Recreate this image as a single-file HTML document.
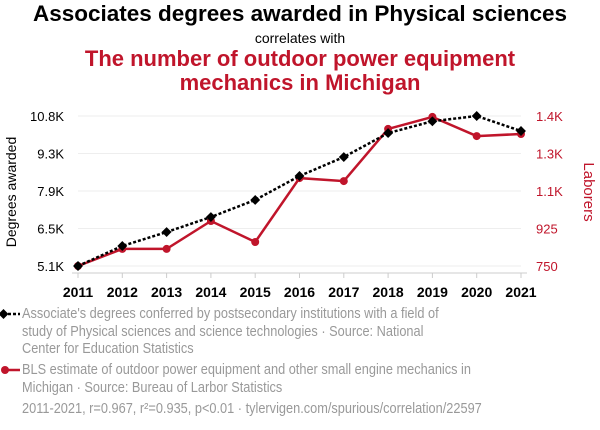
<!DOCTYPE html>
<html><head><meta charset="utf-8"><style>
body{margin:0;width:600px;height:430px;background:#fff;font-family:"Liberation Sans",sans-serif;overflow:hidden;position:relative}
.t{position:absolute;left:0;width:600px;text-align:center}
.leg{position:absolute;left:22px;color:#999;font-size:14.5px;line-height:17.5px;white-space:nowrap;transform:scaleX(0.88);transform-origin:0 0}
</style></head><body>
<div class="t" style="top:1px;font-size:22.5px;font-weight:bold;color:#000">Associates degrees awarded in Physical sciences</div>
<div class="t" style="top:30px;font-size:14px;color:#000">correlates with</div>
<div class="t" style="top:47px;font-size:22px;font-weight:bold;color:#c0152b;line-height:24px">The number of outdoor power equipment<br>mechanics in Michigan</div>
<svg id="c" width="600" height="300" style="position:absolute;left:0;top:0"></svg>
<div class="leg" style="top:306px">Associate's degrees conferred by postsecondary institutions with a field of<br>study of Physical sciences and science technologies · Source: National<br>Center for Education Statistics</div>
<div class="leg" style="top:362px">BLS estimate of outdoor power equipment and other small engine mechanics in<br>Michigan · Source: Bureau of Larbor Statistics</div>
<div class="leg" style="top:401px">2011-2021, r=0.967, r²=0.935, p&lt;0.01 · tylervigen.com/spurious/correlation/22597</div>
<svg width="22" height="100" style="position:absolute;left:0;top:305px">
<line x1="3" y1="9" x2="20" y2="9" stroke="#000" stroke-width="2.5" stroke-dasharray="3,2"/>
<rect x="0" y="5.5" width="7" height="7" transform="rotate(45 3.5 9)" fill="#000"/>
<line x1="3" y1="65" x2="20" y2="65" stroke="#c0152b" stroke-width="2.5"/>
<circle cx="5" cy="65" r="4" fill="#c0152b"/>
</svg>
<script>
const years=[2011,2012,2013,2014,2015,2016,2017,2018,2019,2020,2021];
const degrees=[5.1,5.86,6.39,6.96,7.61,8.52,9.24,10.15,10.6,10.8,10.23];
const laborers=[750,824,824,945,854,1131,1118,1344,1396,1313,1322];
const leftTicks=["5.1K","6.5K","7.9K","9.3K","10.8K"];
const rightTicks=["750","925","1.1K","1.3K","1.4K"];
const NS="http://www.w3.org/2000/svg",svg=document.getElementById('c');
const x=i=>78+i*(521-78)/(years.length-1);
const yL=v=>266-(v-5.1)/(10.8-5.1)*150;
const yR=v=>266-(v-750)/(1400-750)*150;
function mk(t,a,txt){const e=document.createElementNS(NS,t);for(const k in a)e.setAttribute(k,a[k]);if(txt!=null)e.textContent=txt;svg.appendChild(e);return e;}
leftTicks.forEach((l,i)=>{const y=266-i*37.5;
const g=mk('line',{x1:78,x2:521,y1:y,y2:y,stroke:'#eee'});


const a=mk('text',{x:64,y:y+5,'text-anchor':'end','font-size':13,fill:'#000'},l);


const b=mk('text',{x:536,y:y+5,'font-size':13,fill:'#c0152b'},rightTicks[i]);

});
const ax=mk('line',{x1:72,x2:527,y1:273,y2:273,stroke:'#ccc'});


years.forEach((yr,i)=>{const t=mk('text',{x:x(i),y:297,'text-anchor':'middle','font-size':14,'font-weight':'bold'},yr);


const tk=mk('line',{x1:x(i),x2:x(i),y1:273,y2:278,stroke:'#ccc'});

});
const lt=mk('text',{transform:'translate(16,192) rotate(-90)','text-anchor':'middle','font-size':14},'Degrees awarded');


const rt=mk('text',{transform:'translate(584,192) rotate(90)','text-anchor':'middle','font-size':15,fill:'#c0152b'},'Laborers');


const rl=mk('polyline',{points:laborers.map((v,i)=>x(i)+','+yR(v)).join(' '),fill:'none',stroke:'#c0152b','stroke-width':2.5});


laborers.forEach((v,i)=>{const c=mk('circle',{cx:x(i),cy:yR(v),r:4,fill:'#c0152b'});

});
const dl=mk('polyline',{points:degrees.map((v,i)=>x(i)+','+yL(v)).join(' '),fill:'none',stroke:'#000','stroke-width':2.5,'stroke-dasharray':'3,2'});


degrees.forEach((v,i)=>{const r=mk('rect',{x:x(i)-3.5,y:yL(v)-3.5,width:7,height:7,fill:'#000',transform:`rotate(45 ${x(i)} ${yL(v)})`});

});
</script>
</body></html>
